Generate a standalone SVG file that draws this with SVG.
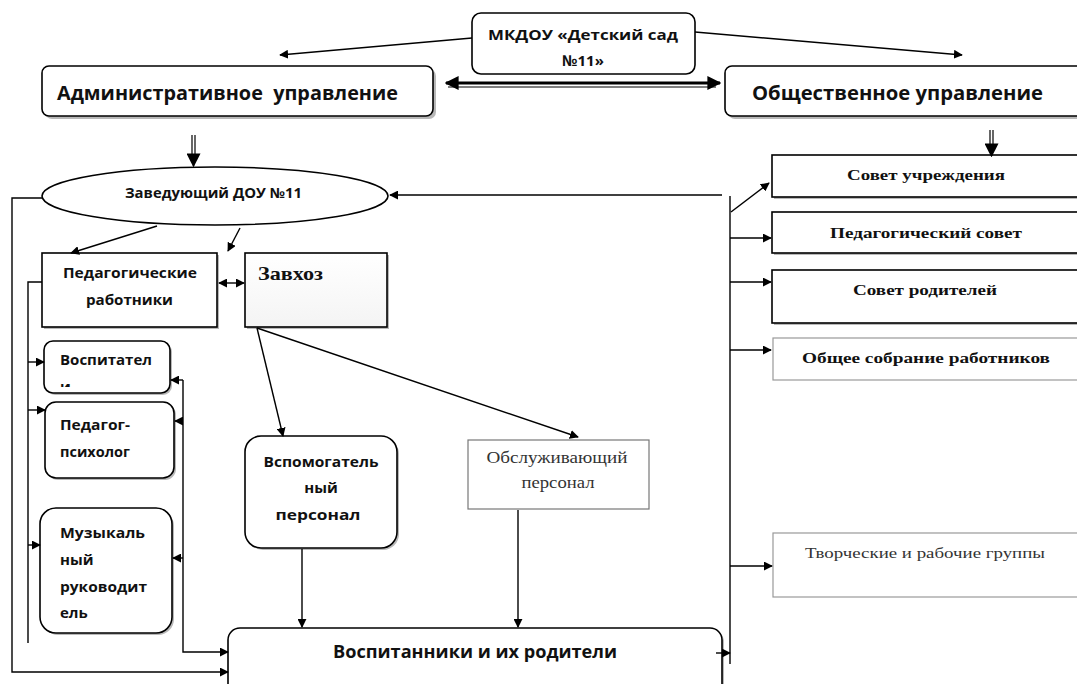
<svg xmlns="http://www.w3.org/2000/svg" width="1077" height="684" viewBox="0 0 1077 684">
<defs>
<marker id="ah" viewBox="0 0 10 10" refX="9" refY="5" markerWidth="9" markerHeight="9" markerUnits="userSpaceOnUse" orient="auto-start-reverse"><path d="M0,0 L10,5 L0,10 z" fill="#000"/></marker>
<marker id="ahb" viewBox="0 0 10 10" refX="9" refY="5" markerWidth="14" markerHeight="14" markerUnits="userSpaceOnUse" orient="auto-start-reverse"><path d="M0,0 L10,5 L0,10 z" fill="#000"/></marker>
<linearGradient id="gz" x1="0" y1="0" x2="0" y2="1"><stop offset="0" stop-color="#ffffff"/><stop offset="1" stop-color="#f4f4f4"/></linearGradient>
<clipPath id="cv"><rect x="44" y="341" width="126" height="46"/></clipPath>
</defs>
<style>
.bx{fill:#fff;stroke:#000;stroke-width:1.6}
.lt{fill:#fff;stroke:#999;stroke-width:1.2}
.sh{fill:#888;opacity:0.6}
.ln{fill:none;stroke:#000;stroke-width:1.4}
.sb{font-family:"Open Sans","Liberation Sans",sans-serif;font-weight:bold;fill:#111}
.rb{font-family:"Liberation Serif",serif;font-weight:bold;fill:#111}
.rr{font-family:"Liberation Serif",serif;fill:#333}
</style>
<rect width="1077" height="684" fill="#fff"/>

<g id="n-mkdou">
<rect class="bx" x="472" y="13" width="223" height="61" rx="9" stroke-width="1.2"/>
<text class="sb" x="583" y="40" font-size="15" text-anchor="middle" textLength="190" lengthAdjust="spacingAndGlyphs">МКДОУ «Детский сад</text>
<text class="sb" x="583" y="66" font-size="15" text-anchor="middle">№11»</text>
</g>

<g id="n-admin">
<rect class="sh" x="45" y="69" width="391" height="50" rx="7"/>
<rect class="bx" x="42" y="66" width="391" height="50" rx="7"/>
<text class="sb" x="57" y="100" font-size="20" textLength="341" lengthAdjust="spacingAndGlyphs">Административное&#160; управление</text>
</g>

<g id="n-public">
<rect class="sh" x="728" y="69" width="360" height="50" rx="7"/>
<rect class="bx" x="725" y="66" width="360" height="50" rx="7"/>
<text class="sb" x="752" y="100" font-size="20" textLength="291" lengthAdjust="spacingAndGlyphs">Общественное управление</text>
</g>

<g id="n-head">
<ellipse class="bx" cx="215" cy="196" rx="173" ry="29"/>
<text class="sb" x="125" y="198" font-size="14" textLength="177" lengthAdjust="spacingAndGlyphs">Заведующий ДОУ №11</text>
</g>

<g id="n-ped">
<rect class="sh" x="44" y="255" width="175" height="74"/>
<rect class="bx" x="42" y="253" width="175" height="74"/>
<text class="sb" x="63" y="278" font-size="15" textLength="134" lengthAdjust="spacingAndGlyphs">Педагогические</text>
<text class="sb" x="86" y="305" font-size="15" textLength="87" lengthAdjust="spacingAndGlyphs">работники</text>
</g>

<g id="n-zavhoz">
<rect class="sh" x="247" y="255" width="142" height="74"/>
<rect x="245" y="253" width="142" height="74" fill="url(#gz)" stroke="#000" stroke-width="1.6"/>
<text class="rb" x="258" y="280" font-size="19" textLength="65" lengthAdjust="spacingAndGlyphs">Завхоз</text>
</g>

<g id="n-vosp">
<rect class="sh" x="46" y="343" width="126" height="52" rx="9"/>
<rect class="bx" x="44" y="341" width="126" height="52" rx="9"/>
<text class="sb" x="60" y="365" font-size="15" textLength="92" lengthAdjust="spacingAndGlyphs">Воспитател</text>
<text class="sb" x="60" y="392" font-size="15" clip-path="url(#cv)">и</text>
</g>

<g id="n-psych">
<rect class="sh" x="47" y="404" width="129" height="76" rx="11"/>
<rect class="bx" x="45" y="402" width="129" height="76" rx="11"/>
<text class="sb" x="60" y="430" font-size="15" textLength="70" lengthAdjust="spacingAndGlyphs">Педагог-</text>
<text class="sb" x="60" y="457" font-size="15" textLength="70" lengthAdjust="spacingAndGlyphs">психолог</text>
</g>

<g id="n-music">
<rect class="sh" x="42" y="510" width="132" height="125" rx="16"/>
<rect class="bx" x="40" y="508" width="132" height="125" rx="16"/>
<text class="sb" x="60" y="538" font-size="15" textLength="85" lengthAdjust="spacingAndGlyphs">Музыкаль</text>
<text class="sb" x="60" y="565" font-size="15">ный</text>
<text class="sb" x="60" y="592" font-size="15" textLength="87" lengthAdjust="spacingAndGlyphs">руководит</text>
<text class="sb" x="60" y="618" font-size="15">ель</text>
</g>

<g id="n-aux">
<rect class="sh" x="247" y="438" width="152" height="112" rx="16"/>
<rect class="bx" x="245" y="436" width="152" height="112" rx="16"/>
<text class="sb" x="321" y="467" font-size="15" text-anchor="middle" textLength="115" lengthAdjust="spacingAndGlyphs">Вспомогатель</text>
<text class="sb" x="321" y="493" font-size="15" text-anchor="middle">ный</text>
<text class="sb" x="318" y="520" font-size="15" text-anchor="middle" textLength="85" lengthAdjust="spacingAndGlyphs">персонал</text>
</g>

<g id="n-service">
<rect x="468" y="440" width="181" height="69" fill="#fff" stroke="#777" stroke-width="1.2"/>
<text class="rr" x="557" y="463" font-size="17" text-anchor="middle" textLength="141" lengthAdjust="spacingAndGlyphs">Обслуживающий</text>
<text class="rr" x="558" y="488" font-size="17" text-anchor="middle" textLength="73" lengthAdjust="spacingAndGlyphs">персонал</text>
</g>

<g id="n-children">
<rect class="sh" x="230" y="630" width="494" height="70" rx="12"/>
<rect class="bx" x="228" y="628" width="494" height="70" rx="12"/>
<text class="sb" x="475" y="658" font-size="17" text-anchor="middle" textLength="284" lengthAdjust="spacingAndGlyphs">Воспитанники и их родители</text>
</g>

<g id="n-sovet-uchr">
<rect class="sh" x="774" y="157" width="310" height="42"/>
<rect class="bx" x="772" y="155" width="310" height="42"/>
<text class="rb" x="926" y="180" font-size="15" text-anchor="middle" textLength="158" lengthAdjust="spacingAndGlyphs">Совет учреждения</text>
</g>

<g id="n-pedsovet">
<rect class="sh" x="774" y="214" width="310" height="41"/>
<rect class="bx" x="772" y="212" width="310" height="41"/>
<text class="rb" x="926" y="238" font-size="15" text-anchor="middle" textLength="192" lengthAdjust="spacingAndGlyphs">Педагогический совет</text>
</g>

<g id="n-parents">
<rect class="sh" x="774" y="272" width="310" height="53"/>
<rect class="bx" x="772" y="270" width="310" height="53"/>
<text class="rb" x="925" y="295" font-size="15" text-anchor="middle" textLength="144" lengthAdjust="spacingAndGlyphs">Совет родителей</text>
</g>

<g id="n-meeting">
<rect class="lt" x="773" y="338" width="310" height="42"/>
<text class="rb" x="926" y="363" font-size="15" text-anchor="middle" textLength="248" lengthAdjust="spacingAndGlyphs">Общее собрание работников</text>
</g>

<g id="n-groups">
<rect class="lt" x="773" y="533" width="310" height="64"/>
<text class="rr" x="925" y="558" font-size="15" text-anchor="middle" textLength="240" lengthAdjust="spacingAndGlyphs">Творческие и рабочие группы</text>
</g>

<g id="connectors">
<line class="ln" x1="472" y1="38" x2="280" y2="55" marker-end="url(#ah)"/>
<line class="ln" x1="695" y1="32" x2="962" y2="55" marker-end="url(#ah)"/>
<line x1="446" y1="83" x2="720" y2="83" stroke="#000" stroke-width="3" marker-start="url(#ahb)" marker-end="url(#ahb)"/>
<line x1="448" y1="87" x2="716" y2="87" stroke="#000" stroke-width="1.2"/>
<line x1="192" y1="135" x2="192" y2="155" stroke="#000" stroke-width="1.2"/>
<line x1="195" y1="135" x2="195" y2="155" stroke="#000" stroke-width="1.2"/>
<line class="ln" x1="193.5" y1="154" x2="193.5" y2="166" marker-end="url(#ahb)"/>
<line x1="990" y1="130" x2="990" y2="147" stroke="#000" stroke-width="1.2"/>
<line x1="993" y1="130" x2="993" y2="147" stroke="#000" stroke-width="1.2"/>
<line class="ln" x1="991.5" y1="146" x2="991.5" y2="156" marker-end="url(#ahb)"/>
<line class="ln" x1="722" y1="195" x2="390" y2="195" marker-end="url(#ah)"/>
<line class="ln" x1="730" y1="196" x2="730" y2="664"/>
<line class="ln" x1="731" y1="212" x2="769" y2="183" marker-end="url(#ah)"/>
<line class="ln" x1="730" y1="238" x2="771" y2="238" marker-end="url(#ah)"/>
<line class="ln" x1="730" y1="282" x2="771" y2="282" marker-end="url(#ah)"/>
<line class="ln" x1="730" y1="350" x2="771" y2="350" marker-end="url(#ah)"/>
<line class="ln" x1="730" y1="566" x2="772" y2="566" marker-end="url(#ah)"/>
<line class="ln" x1="716" y1="653" x2="730" y2="653" marker-end="url(#ah)"/>
<line class="ln" x1="157" y1="226" x2="71" y2="253" marker-end="url(#ah)"/>
<line class="ln" x1="240" y1="228" x2="228" y2="251" marker-end="url(#ah)"/>
<line class="ln" x1="219" y1="283" x2="244" y2="283" marker-start="url(#ah)" marker-end="url(#ah)"/>
<polyline class="ln" points="42,198 12,198 12,672 228,672" marker-end="url(#ah)"/>
<polyline class="ln" points="42,282 28,282 28,643"/>
<line class="ln" x1="28" y1="362" x2="44" y2="362" marker-end="url(#ah)"/>
<line class="ln" x1="28" y1="410" x2="45" y2="410" marker-end="url(#ah)"/>
<line class="ln" x1="28" y1="545" x2="40" y2="545" marker-end="url(#ah)"/>
<polyline class="ln" points="183,380 183,652 228,652" marker-end="url(#ah)"/>
<line class="ln" x1="183" y1="380" x2="171" y2="380" marker-end="url(#ah)"/>
<line class="ln" x1="183" y1="421" x2="175" y2="421" marker-end="url(#ah)"/>
<line class="ln" x1="183" y1="558" x2="173" y2="558" marker-end="url(#ah)"/>
<line class="ln" x1="257" y1="328" x2="283" y2="436" marker-end="url(#ah)"/>
<line class="ln" x1="257" y1="328" x2="578" y2="437" marker-end="url(#ah)"/>
<line class="ln" x1="302" y1="549" x2="302" y2="627" marker-end="url(#ah)"/>
<line class="ln" x1="518" y1="510" x2="518" y2="627" marker-end="url(#ah)"/>
</g>
</svg>
